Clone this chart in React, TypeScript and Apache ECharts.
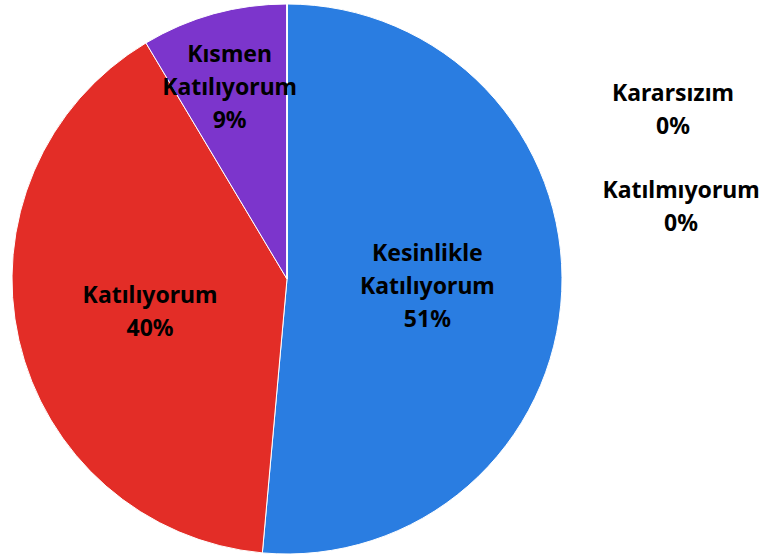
import React, { useEffect, useRef } from "react";
import * as echarts from "echarts";

const categories = [
  "Kesinlikle\nKatılıyorum",
  "Katılıyorum",
  "Kısmen\nKatılıyorum",
  "Kararsızım",
  "Katılmıyorum",
];
const counts = [18, 14, 3, 0, 0];
const colors = ["#2a7de1", "#e32d27", "#7c35cc", "#a5a5a5", "#ffc000"];

export default function App() {
  const ref = useRef<HTMLDivElement>(null);
  useEffect(() => {
    const chart = echarts.init(ref.current!, null, { renderer: "svg" });
    chart.setOption({
      animation: false,
      backgroundColor: "#ffffff",
      series: [
        {
          type: "pie",
          center: [287, 279],
          radius: [0, 275],
          startAngle: 90,
          clockwise: true,
          data: categories.map((c, i) => ({
            name: c,
            value: counts[i],
            itemStyle: { color: colors[i] },
          })),
          itemStyle: { borderColor: "#ffffff", borderWidth: 1 },
          label: {
            show: true,
            position: "inside",
            formatter: (p: any) => `${p.name}\n${Math.round(p.percent)}%`,
            fontFamily: "Noto Sans",
            fontWeight: "bold",
            fontSize: 23,
            lineHeight: 33,
            color: "#000000",
            align: "center",
          },
          labelLine: { show: false },
          emphasis: { disabled: true },
          labelLayout: (params: any) => {
            if (params.dataIndex === 2) return { dx: -20, dy: -58 };
            if (params.dataIndex === 3) return { x: 673, y: 108, align: "center", verticalAlign: "middle" };
            if (params.dataIndex === 4) return { x: 681, y: 205, align: "center", verticalAlign: "middle" };
            return {};
          },
        },
      ],
    });
    return () => chart.dispose();
  }, []);
  return (
    <div
      ref={ref}
      style={{ position: "fixed", left: 0, top: 0, width: 762, height: 557 }}
    />
  );
}
